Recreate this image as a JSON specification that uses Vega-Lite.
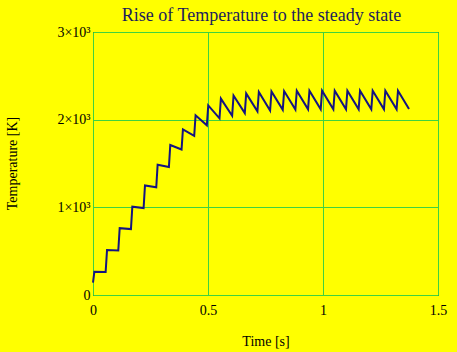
{
  "$schema": "https://vega.github.io/schema/vega-lite/v6.json",
  "width": 345,
  "height": 263,
  "autosize": {"type": "none"},
  "padding": {"left": 93, "top": 32, "right": 19, "bottom": 57},
  "background": "#ffff00",
  "config": {
    "view": {"stroke": "#000033", "strokeWidth": 1},
    "font": "Liberation Serif"
  },
  "title": {
    "text": "Rise of Temperature to the steady state",
    "font": "Liberation Serif",
    "fontSize": 18,
    "fontWeight": "normal",
    "color": "#1c1c5c",
    "baseline": "bottom",
    "frame": "group",
    "anchor": "middle",
    "offset": 2,
    "dx": -4,
    "dy": 20
  },
  "data": {
    "values": [
      {"t": 0, "T": 140}, {"t": 0.006, "T": 266},
      {"t": 0.055, "T": 262}, {"t": 0.061, "T": 513},
      {"t": 0.11, "T": 507}, {"t": 0.116, "T": 762},
      {"t": 0.165, "T": 752}, {"t": 0.171, "T": 1007},
      {"t": 0.22, "T": 992}, {"t": 0.226, "T": 1250},
      {"t": 0.275, "T": 1228}, {"t": 0.281, "T": 1485},
      {"t": 0.33, "T": 1460}, {"t": 0.336, "T": 1711},
      {"t": 0.385, "T": 1660}, {"t": 0.391, "T": 1890},
      {"t": 0.44, "T": 1815}, {"t": 0.446, "T": 2050},
      {"t": 0.495, "T": 1935}, {"t": 0.501, "T": 2162},
      {"t": 0.55, "T": 2015}, {"t": 0.556, "T": 2240},
      {"t": 0.605, "T": 2045}, {"t": 0.611, "T": 2275},
      {"t": 0.66, "T": 2075}, {"t": 0.666, "T": 2300},
      {"t": 0.715, "T": 2095}, {"t": 0.721, "T": 2315},
      {"t": 0.77, "T": 2105}, {"t": 0.776, "T": 2322},
      {"t": 0.825, "T": 2112}, {"t": 0.831, "T": 2326},
      {"t": 0.88, "T": 2115}, {"t": 0.886, "T": 2330},
      {"t": 0.935, "T": 2118}, {"t": 0.941, "T": 2330},
      {"t": 0.99, "T": 2118}, {"t": 0.996, "T": 2330},
      {"t": 1.045, "T": 2118}, {"t": 1.051, "T": 2330},
      {"t": 1.1, "T": 2118}, {"t": 1.106, "T": 2330},
      {"t": 1.155, "T": 2118}, {"t": 1.161, "T": 2330},
      {"t": 1.21, "T": 2118}, {"t": 1.216, "T": 2330},
      {"t": 1.265, "T": 2118}, {"t": 1.271, "T": 2330},
      {"t": 1.32, "T": 2118}, {"t": 1.326, "T": 2330},
      {"t": 1.374, "T": 2122}
    ]
  },
  "mark": {"type": "line", "color": "#141480", "strokeWidth": 2, "interpolate": "linear"},
  "encoding": {
    "x": {
      "field": "t",
      "type": "quantitative",
      "scale": {"domain": [0, 1.5], "nice": false, "zero": false},
      "axis": {
        "title": "Time [s]",
        "values": [0, 0.5, 1, 1.5],
        "format": "~g",
        "domain": false,
        "ticks": false,
        "labelPadding": 8,
        "labelFont": "Liberation Serif",
        "labelFontSize": 14,
        "labelColor": "#000000",
        "labelDx": 2,
        "labelFlush": false,
        "grid": true,
        "gridColor": "#3fd23f",
        "gridWidth": 1,
        "gridOpacity": 1,
        "titleFont": "Liberation Serif",
        "titleFontSize": 14,
        "titleFontWeight": "normal",
        "titleColor": "#000000",
        "titleBaseline": "alphabetic",
        "titleY": 50
      }
    },
    "y": {
      "field": "T",
      "type": "quantitative",
      "scale": {"domain": [0, 3000], "nice": false},
      "axis": {
        "title": "Temperature [K]",
        "values": [0, 1000, 2000, 3000],
        "labelExpr": "datum.value == 0 ? '0' : (datum.value / 1000) + '×10³'",
        "domain": false,
        "ticks": false,
        "labelPadding": 3,
        "labelFont": "Liberation Serif",
        "labelFontSize": 14,
        "labelColor": "#000000",
        "labelFlush": false,
        "grid": true,
        "gridColor": "#3fd23f",
        "gridWidth": 1,
        "gridOpacity": 1,
        "titleFont": "Liberation Serif",
        "titleFontSize": 14,
        "titleFontWeight": "normal",
        "titleColor": "#000000",
        "titleAngle": -90,
        "titleBaseline": "middle",
        "titleX": -81,
        "titleY": 131
      }
    }
  }
}
